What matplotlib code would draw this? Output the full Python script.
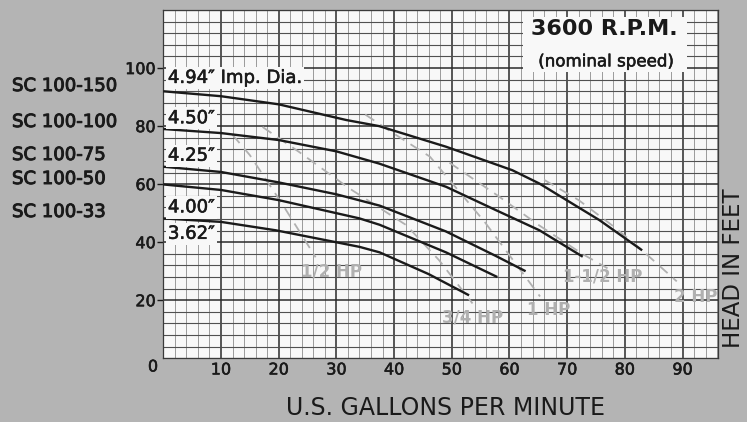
#
# Pump performance chart, 3600 RPM, SC 100 series
#
import numpy as np
import matplotlib
matplotlib.use('Agg')
from matplotlib import pyplot as plt
from matplotlib.ticker import MultipleLocator
from matplotlib.patches import Rectangle
import matplotlib.patheffects as pe
#
# ----------------------------------------------------
# Impeller curves (GPM, head in feet)
gpm_494 = [0, 10, 20, 31.7, 37.4, 49, 60.5, 65.2, 68, 75.6, 83]
head_494 = [92, 90.3, 87.5, 82.1, 80, 72.9, 64.8, 60.2, 56.8, 47.6, 37.2]
gpm_450 = [0, 10, 20, 30, 37.4, 49, 57.7, 65.2, 72.7]
head_450 = [79, 77.6, 75.2, 71.3, 67.1, 59.1, 51, 44.1, 35]
gpm_425 = [0, 10, 20, 30, 37.5, 49, 57.7, 62.8]
head_425 = [66, 64.2, 60.6, 56.5, 52.6, 43.7, 35.2, 30]
gpm_400 = [0, 10, 20, 34, 37.5, 49, 57.9]
head_400 = [59.9, 58, 54.5, 48.2, 46, 36.5, 28]
gpm_362 = [0, 10, 19.5, 34, 37.5, 46, 53]
head_362 = [48.2, 47, 44.1, 38.4, 36.5, 29, 21.7]
#
curve_gpm = [gpm_494, gpm_450, gpm_425, gpm_400, gpm_362]
curve_head = [head_494, head_450, head_425, head_400, head_362]
dia_labels = ['4.94\u2033 Imp. Dia.', '4.50\u2033', '4.25\u2033', '4.00\u2033', '3.62\u2033']
dia_label_y = [96.6, 82.7, 69.8, 52, 42.9]
#
# Motor horsepower lines (dashed)
hp_names = ['1/2 HP', '3/4 HP', '1 HP', '1-1/2 HP', '2 HP']
hp_gpm = [[12, 15, 20.7, 26.4],
          [17.2, 23.6, 32.2, 42.1, 47.8, 53.6],
          [35, 39.5, 46.2, 55.7, 65.3],
          [49.6, 58, 65, 72.6, 77],
          [66, 72, 78, 83, 89]]
hp_head = [[77, 70, 52.9, 34.8],
           [79.7, 71, 58.6, 45.9, 33.8, 18.9],
           [84, 78, 69.5, 47, 21.3],
           [67.4, 56, 46, 36, 31],
           [61.5, 54.5, 45.5, 37.2, 26.5]]
hp_label_x = [29.2, 53.6, 66.8, 76.2, 92.3]
hp_label_y = [29.8, 13.9, 16.7, 28.1, 21.2]
#
models = ['SC 100-150', 'SC 100-100', 'SC 100-75', 'SC 100-50', 'SC 100-33']
model_y_px = [86, 122, 155, 179, 212]
#
x_ticks = [10, 20, 30, 40, 50, 60, 70, 80, 90]
y_ticks = [20, 40, 60, 80, 100]
#
W, H = 747, 422
bg = '#b4b4b4'
ink = '#1a1a1a'
hp_col = '#b0b0b0'
semi = [pe.withStroke(linewidth=0.4, foreground=ink)]
#
fig = plt.figure(figsize=(W / 100, H / 100), dpi=100)
fig.patch.set_facecolor(bg)
#
x0, x1, y0, y1 = 163.3, 718.3, 10.0, 358.3
ax = fig.add_axes([x0 / W, 1 - y1 / H, (x1 - x0) / W, (y1 - y0) / H])
ax.set_facecolor('#f8f8f8')
ax.set_xlim(0, 96.2)
ax.set_ylim(0, 120)
#
# Grid paper
ax.xaxis.set_major_locator(MultipleLocator(10))
ax.xaxis.set_minor_locator(MultipleLocator(2))
ax.yaxis.set_major_locator(MultipleLocator(20))
ax.yaxis.set_minor_locator(MultipleLocator(4))
ax.set_axisbelow(True)
ax.grid(True, axis='x', which='minor', color='#8c8c8c', lw=0.6)
ax.grid(True, axis='y', which='minor', color='#505050', lw=0.8)
ax.grid(True, which='major', color='#2a2a2a', lw=1.1)
#
ax.set_xticks(x_ticks)
ax.set_yticks(y_ticks)
ax.tick_params(axis='x', which='both', length=0, pad=3, labelsize=11.5, labelcolor=ink)
ax.tick_params(axis='y', which='major', length=4, width=1, color=ink, pad=1.5,
               labelsize=11.5, labelcolor=ink)
ax.tick_params(axis='y', which='minor', length=0)
for t in ax.get_xticklabels() + ax.get_yticklabels():
    t.set_path_effects(semi)
for s in ax.spines.values():
    s.set_color('#3a3a3a')
    s.set_linewidth(0.9)
#
# White box behind the speed note
ax.add_patch(Rectangle((62.3, 98.7), 28.5, 18.8, facecolor='#f8f8f8',
                       edgecolor='none', zorder=1))
#
# HP lines
for xs, ys in zip(hp_gpm, hp_head):
    ax.plot(xs, ys, color=hp_col, lw=1.3, dashes=(6, 4), zorder=2)
for name, tx, ty in zip(hp_names, hp_label_x, hp_label_y):
    ax.text(tx, ty, name, color=hp_col, fontsize=12, fontweight='bold',
            ha='center', va='center', zorder=2)
#
# Impeller curves
for xs, ys in zip(curve_gpm, curve_head):
    ax.plot(xs, ys, color=ink, lw=1.7, solid_capstyle='butt', zorder=3)
for lab, ty in zip(dia_labels, dia_label_y):
    t = ax.text(0.8, ty, lab, fontsize=13, color=ink, ha='left', va='center', zorder=4,
                bbox=dict(boxstyle='square,pad=0.12', facecolor='#f8f8f8', edgecolor='none'))
    t.set_path_effects(semi)
#
ax.text(76.5, 113.5, '3600 R.P.M.', fontsize=16, fontweight='bold', color=ink,
        ha='center', va='center', zorder=4)
t = ax.text(76.7, 102.3, '(nominal speed)', fontsize=12, color=ink,
            ha='center', va='center', zorder=4)
t.set_path_effects(semi)
#
# Figure-level text
for m, py in zip(models, model_y_px):
    t = fig.text(12 / W, 1 - py / H, m, fontsize=13, color=ink, ha='left', va='center')
    t.set_path_effects([pe.withStroke(linewidth=0.7, foreground=ink)])
t = fig.text(153 / W, 1 - 367 / H, '0', fontsize=11.5, color=ink, ha='center', va='center')
t.set_path_effects(semi)
fig.text(446 / W, 1 - 408 / H, 'U.S. GALLONS PER MINUTE', fontsize=17, color=ink,
         ha='center', va='center')
fig.text(734 / W, 1 - 268.5 / H, 'HEAD IN FEET', fontsize=16.5, color=ink,
         ha='center', va='center', rotation=90)
#
fig.savefig('out.png', dpi=100, facecolor=fig.get_facecolor())
